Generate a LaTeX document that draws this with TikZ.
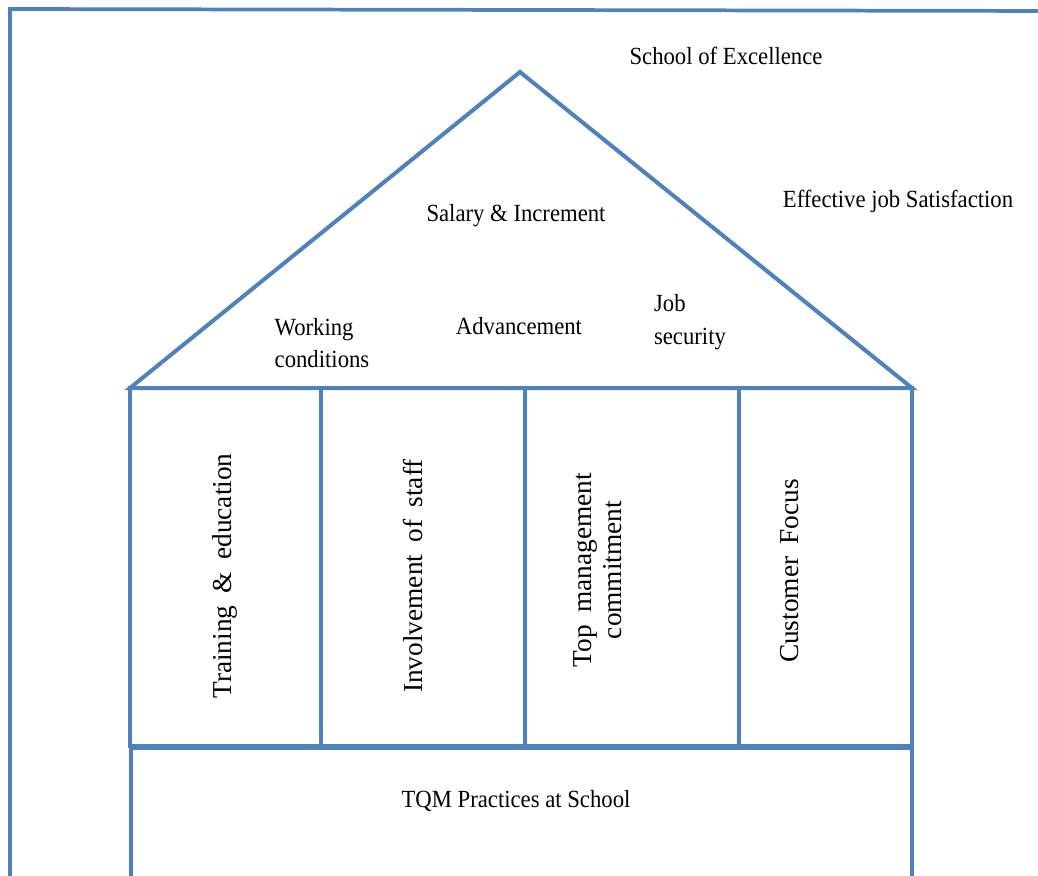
\documentclass[tikz,border=0pt]{standalone}
\usepackage{fontspec}
\setmainfont{Liberation Serif}
\newfontfamily\narrowserif[FakeStretch=0.92]{Liberation Serif}
\newfontfamily\pillarserif[WordSpace=1.8]{Liberation Serif}
\usetikzlibrary{positioning}
\definecolor{houseblue}{RGB}{79,129,189}
\tikzset{
  wall/.style={draw=houseblue,line width=3pt},
  flattext/.style={font=\narrowserif\fontsize{18.5}{24.5}\selectfont,inner sep=0pt,align=left},
  pillartext/.style={font=\pillarserif\fontsize{20.5}{22.5}\selectfont,inner sep=0pt,rotate=90,align=center}
}

\begin{document}
\begin{tikzpicture}[x=0.75pt,y=-0.75pt]
\useasboundingbox (0,0) rectangle (1038,875);
\clip (0,0) rectangle (1038,875);

% outer frame (runs off the page)
\draw[wall,line width=2.8pt] (10,900) -- (10,9) -- (1060,11);

% roof
\coordinate (apex) at (520,72);
\coordinate (eaveL) at (130,388);
\coordinate (eaveR) at (912,388);
\draw[wall,line join=miter] (eaveL) -- (apex) -- (eaveR) -- cycle;

% pillars
\draw[wall] (130,388) rectangle (912,746);
\draw[wall] (321,388) -- (321,746);
\draw[wall] (525,388) -- (525,746);
\draw[wall] (739,388) -- (739,746);

% foundation
\draw[wall] (131,748) rectangle (912,900);

% texts above and in the roof
\node[flattext] (excellence) at (726,56) {School of Excellence};
\node[flattext] (satisfaction) at (898,201) {Effective job Satisfaction};
\node[flattext] (salary) at (516,216) {Salary \& Increment};
\node[flattext] (conditions) at (322,343) {Working\\conditions};
\node[flattext] (advancement) at (519,326) {Advancement};
\node[flattext] (security) at (690,322) {Job\\security};

% pillar texts
\node[pillartext] (training) at (225,576) {Training \& education};
\node[pillartext] (involvement) at (413,576) {Involvement of staff};
\node[pillartext] (commitment) at (598,570) {Top management\\commitment};
\node[pillartext] (customer) at (790,571) {Customer Focus};

% base
\node[flattext] (tqm) at (516,801) {TQM Practices at School};
\end{tikzpicture}
\end{document}
